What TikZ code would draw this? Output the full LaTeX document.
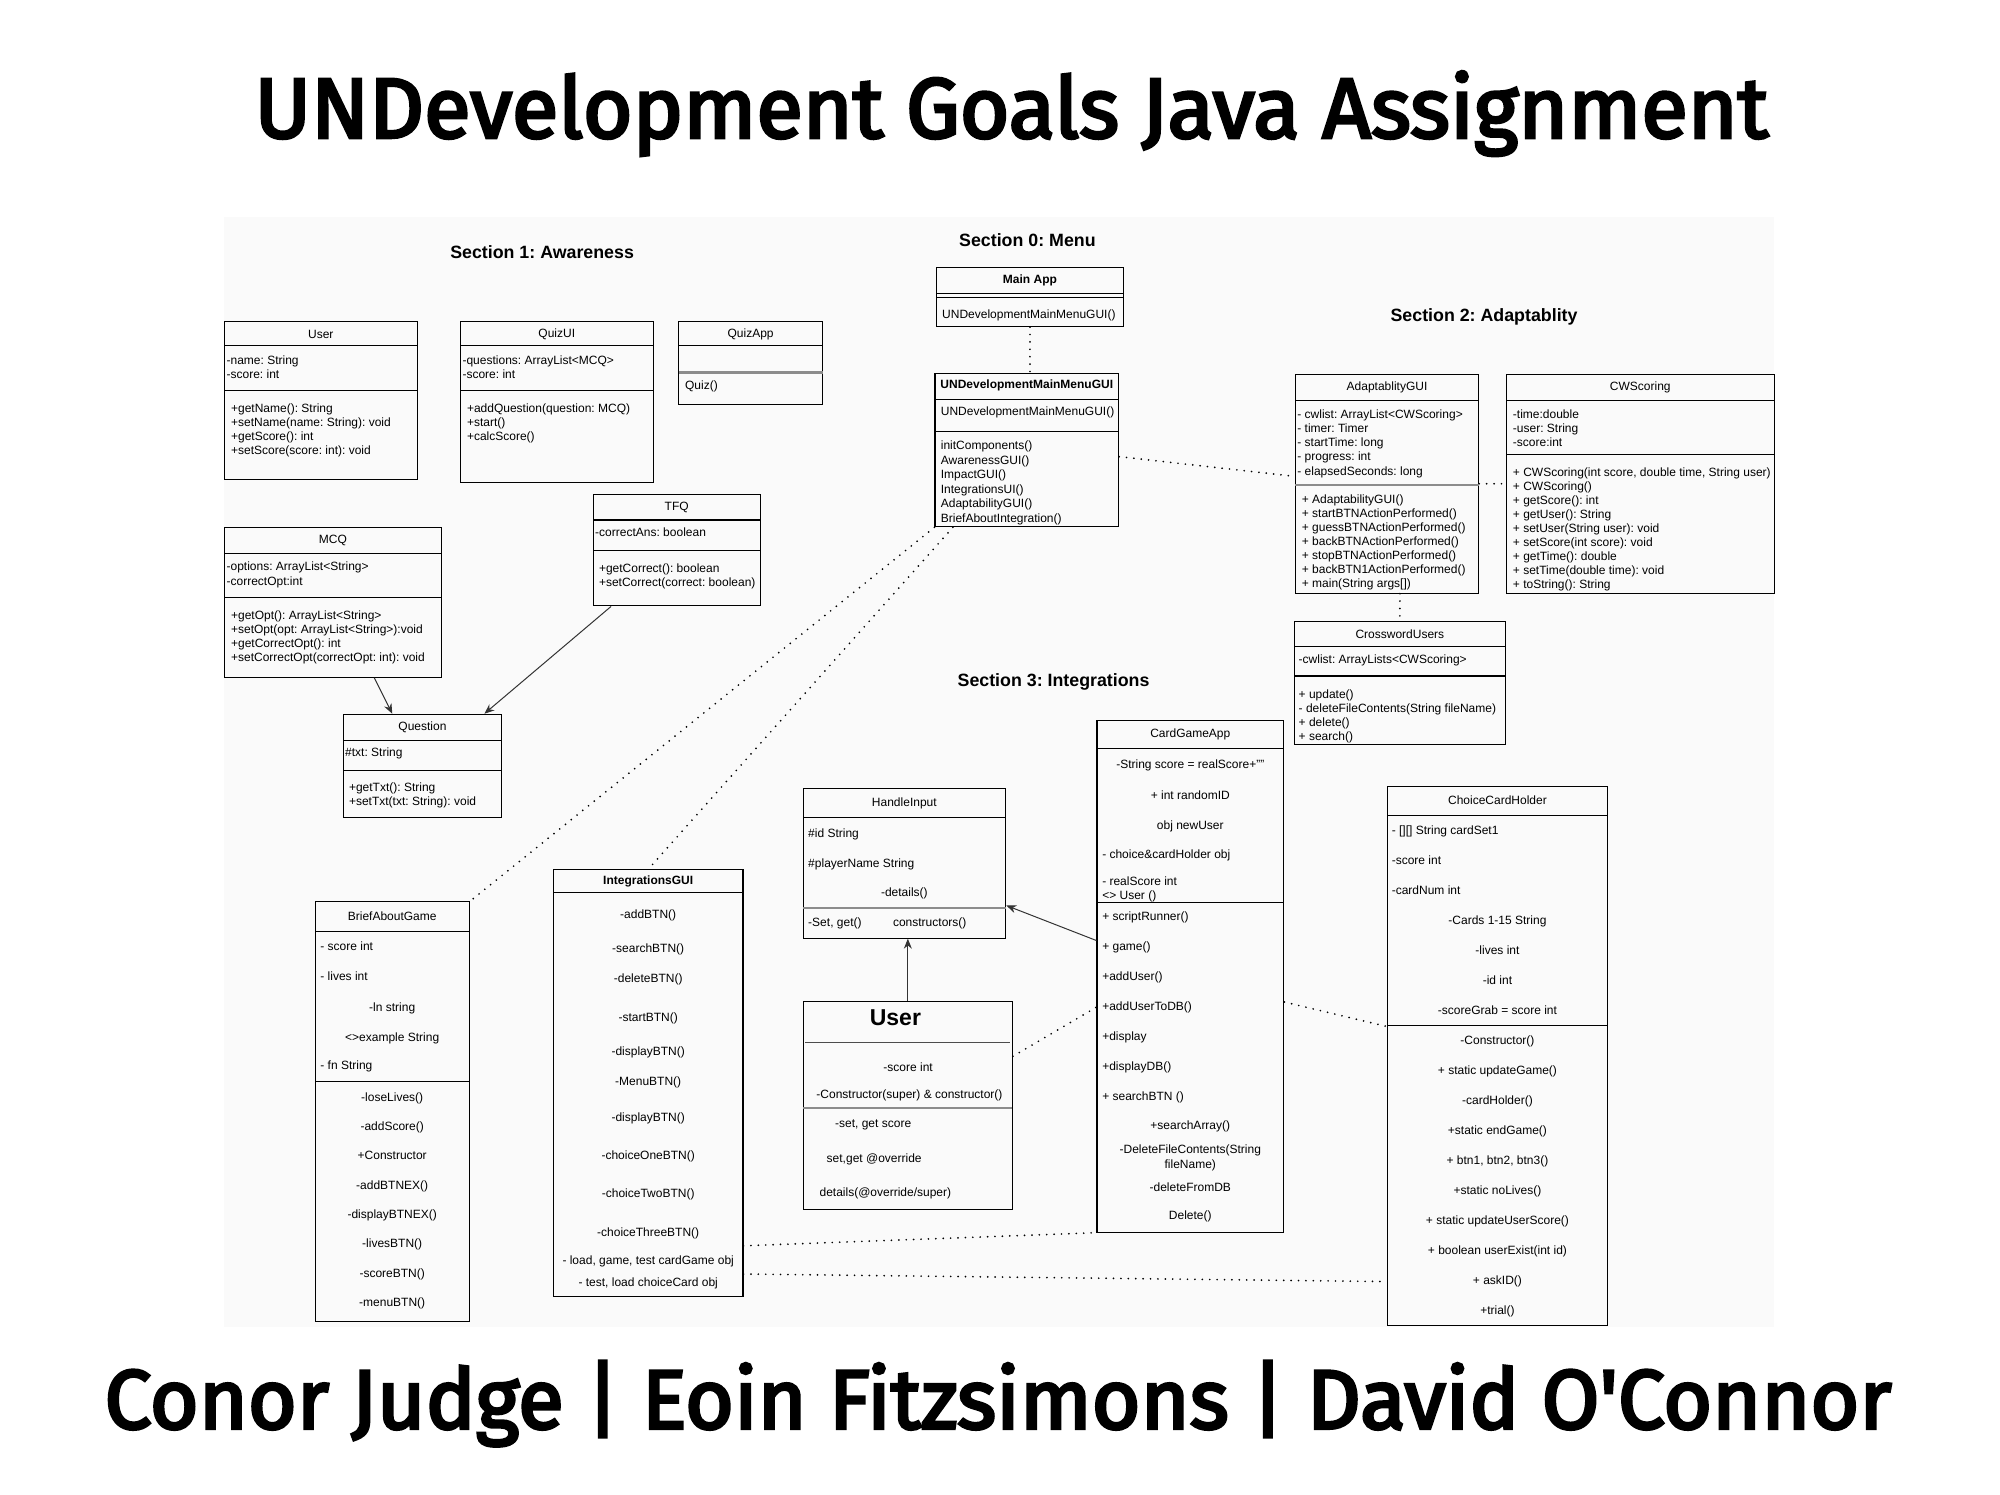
\documentclass[tikz,border=0pt]{standalone}
\usepackage{fontspec}
\usepackage{graphicx}
\setmainfont{Liberation Sans}
\newfontfamily\headfont{Fira Sans}[FakeBold=3.5]
\usetikzlibrary{calc}
\usetikzlibrary{fit}
\usetikzlibrary{arrows.meta}
\frenchspacing
\tikzset{
  uml/.style={draw, line width=1.1pt, inner sep=0pt},
  clsname/.style={font=\fontsize{12}{14}\selectfont, inner sep=0pt},
  clsbold/.style={font=\fontsize{12}{14}\selectfont\bfseries, inner sep=0pt},
  leftrows/.style={font=\fontsize{12}{#1}\selectfont, align=left, anchor=north west, inner sep=0pt},
  midrows/.style={font=\fontsize{12}{#1}\selectfont, align=center, anchor=north, inner sep=0pt},
  oneline/.style={font=\fontsize{12}{14}\selectfont, anchor=west, inner sep=0pt},
  sectitle/.style={font=\fontsize{17.8}{20}\selectfont\bfseries, inner sep=0pt},
  sepline/.style={line width=1.1pt},
  greyline/.style={line width=2.2pt, black!45},
  dotlink/.style={line width=1.9pt, line cap=round, dash pattern=on 0pt off 7.4pt},
  arrowlink/.style={-{Stealth[length=10pt, width=8pt]}, line width=1pt, black!80}
}
\begin{document}
\begin{tikzpicture}[x=1.2755pt, y=-1.2755pt]
    \useasboundingbox (0,0) rectangle (1568,1172);
    \fill[black!2] (176,170) rectangle (1391,1040);

    \node[anchor=base, inner sep=0pt] (title) at (793,108) {\resizebox{1513pt}{!}{\headfont UNDevelopment Goals Java Assignment}};
    \node[anchor=base, inner sep=0pt] (authors) at (782.5,1120) {\resizebox{1787pt}{!}{\headfont Conor Judge | Eoin Fitzsimons | David O'Connor}};

    \node[sectitle] (sec1) at (425,197.5) {Section 1: Awareness};
    \node[sectitle] (sec0) at (805.5,188) {Section 0: Menu};
    \node[sectitle] (sec2) at (1163.5,248.5) {Section 2: Adaptablity};
    \node[sectitle] (sec3) at (826,535) {Section 3: Integrations};

    % section 1
    \node[uml, fit={(176,252) (327,376)}] (user) {};
    \node[clsname] (user name) at (251.5,262) {User};
    \draw[sepline] (176,271) -- (327,271);
    \node[leftrows=14] (user attr) at (177.5,278.5) {-name: String\\-score: int};
    \draw[sepline] (176,306) -- (327,306);
    \node[leftrows=14] (user ops) at (181,316.5) {+getName(): String\\+setName(name: String): void\\+getScore(): int\\+setScore(score: int): void};

    \node[uml, fit={(361,252) (512,378)}] (quizui) {};
    \node[clsname] (quizui name) at (436.5,262) {QuizUI};
    \draw[sepline] (361,271) -- (512,271);
    \node[leftrows=14] (quizui attr) at (362.5,278.5) {-questions: ArrayList<MCQ>\\-score: int};
    \draw[sepline] (361,306) -- (512,306);
    \node[leftrows=14] (quizui ops) at (366,316.5) {+addQuestion(question: MCQ)\\+start()\\+calcScore()};

    \node[uml, fit={(532,252) (645,317)}] (quizapp) {};
    \node[clsname] (quizapp name) at (588.5,262) {QuizApp};
    \draw[sepline] (532,271) -- (645,271);
    \draw[greyline] (532,292) -- (645,292);
    \node[oneline] (quizapp ops) at (537,303) {Quiz()};

    \node[uml, fit={(176,413.5) (346,531)}] (mcq) {};
    \node[clsname] (mcq name) at (261,424) {MCQ};
    \draw[sepline] (176,433.8) -- (346,433.8);
    \node[leftrows=14.5] (mcq attr) at (177.5,440.3) {-options: ArrayList<String>\\-correctOpt:int};
    \draw[sepline] (176,468.5) -- (346,468.5);
    \node[leftrows=14] (mcq ops) at (181,478.4) {+getOpt(): ArrayList<String>\\+setOpt(opt: ArrayList<String>):void\\+getCorrectOpt(): int\\+setCorrectOpt(correctOpt: int): void};

    \node[uml, fit={(465,387.5) (596,475)}] (tfq) {};
    \node[clsname] (tfq name) at (530.5,397.7) {TFQ};
    \draw[sepline] (465,407.7) -- (596,407.7);
    \node[oneline] (tfq attr) at (466.5,417.6) {-correctAns: boolean};
    \draw[sepline] (465,431.7) -- (596,431.7);
    \node[leftrows=14.5] (tfq ops) at (469.5,441.5) {+getCorrect(): boolean\\+setCorrect(correct: boolean)};

    \node[uml, fit={(269.4,560) (393,641)}] (question) {};
    \node[clsname] (question name) at (331.2,570.5) {Question};
    \draw[sepline] (269.4,580.2) -- (393,580.2);
    \node[oneline] (question attr) at (270.5,590.3) {\#txt: String};
    \draw[sepline] (269.4,604.2) -- (393,604.2);
    \node[leftrows=14] (question ops) at (273.5,613.8) {+getTxt(): String\\+setTxt(txt: String): void};

    % section 0
    \node[uml, fit={(734,209.5) (881,256)}] (mainapp) {};
    \node[clsbold] (mainapp name) at (807.5,220) {Main App};
    \draw[sepline] (734,230) -- (881,230);
    \draw[sepline] (734,233) -- (881,233);
    \node[oneline] (mainapp ops) at (738.5,247.5) {UNDevelopmentMainMenuGUI()};

    \node[uml, fit={(733,293) (877,413)}] (menugui) {};
    \node[clsbold] (menugui name) at (805,302.5) {UNDevelopmentMainMenuGUI};
    \draw[sepline] (733,313) -- (877,313);
    \node[oneline] (menugui attr) at (737.5,323) {UNDevelopmentMainMenuGUI()};
    \draw[sepline] (733,338) -- (877,338);
    \node[leftrows=14.5] (menugui ops) at (737.5,345.5) {initComponents()\\AwarenessGUI()\\ImpactGUI()\\IntegrationsUI()\\AdaptabilityGUI()\\BriefAboutIntegration()};

    % section 2
    \node[uml, fit={(1015.5,293.5) (1159.3,465)}] (adaptgui) {};
    \node[clsname] (adaptgui name) at (1087.4,304) {AdaptablityGUI};
    \draw[sepline] (1015.5,314) -- (1159.3,314);
    \node[leftrows=14.3] (adaptgui attr) at (1017,320.8) {- cwlist: ArrayList<CWScoring>\\- timer: Timer\\- startTime: long\\- progress: int\\- elapsedSeconds: long};
    \draw[greyline] (1015.5,380.5) -- (1159.3,380.5);
    \node[leftrows=14] (adaptgui ops) at (1020.5,387.7) {+ AdaptabilityGUI()\\+ startBTNActionPerformed()\\+ guessBTNActionPerformed()\\+ backBTNActionPerformed()\\+ stopBTNActionPerformed()\\+ backBTN1ActionPerformed()\\+ main(String args[])};

    \node[uml, fit={(1181.3,293.5) (1391,465)}] (cwscoring) {};
    \node[clsname] (cwscoring name) at (1286,304) {CWScoring};
    \draw[sepline] (1181.3,314) -- (1391,314);
    \node[leftrows=14] (cwscoring attr) at (1186,320.8) {-time:double\\-user: String\\-score:int};
    \draw[sepline] (1181.3,356.2) -- (1391,356.2);
    \node[leftrows=14] (cwscoring ops) at (1186,366.3) {+ CWScoring(int score, double time, String user)\\+ CWScoring()\\+ getScore(): int\\+ getUser(): String\\+ setUser(String user): void\\+ setScore(int score): void\\+ getTime(): double\\+ setTime(double time): void\\+ toString(): String};

    \node[uml, fit={(1015,487) (1180,584)}] (crossword) {};
    \node[clsname] (crossword name) at (1097.5,497) {CrosswordUsers};
    \draw[sepline] (1015,507) -- (1180,507);
    \node[oneline] (crossword attr) at (1018,518) {-cwlist: ArrayLists<CWScoring>};
    \draw[sepline] (1015,530) -- (1180,530);
    \node[leftrows=14] (crossword ops) at (1018,540.5) {+ update()\\- deleteFileContents(String fileName)\\+ delete()\\+ search()};

    % section 3
    \node[uml, fit={(247,707) (368,1036)}] (briefgame) {};
    \node[clsname] (briefgame name) at (307.5,718.5) {BriefAboutGame};
    \draw[sepline] (247,730.5) -- (368,730.5);
    \node[leftrows=30] (briefgame attr) at (251,738.5) {- score int\\- lives int};
    \node[midrows=30] (briefgame attr2) at (307.5,786) {-ln string\\<>example String};
    \node[oneline] (briefgame fn) at (251,836) {- fn String};
    \draw[sepline] (247,848) -- (368,848);
    \node[midrows=29.3] (briefgame ops) at (307.5,856.5) {-loseLives()\\-addScore()\\+Constructor\\-addBTNEX()\\-displayBTNEX()\\-livesBTN()\\-scoreBTN()\\-menuBTN()};

    \node[uml, fit={(433.8,682) (582.5,1016.5)}] (integgui) {};
    \node[clsbold] (integgui name) at (508.2,691) {IntegrationsGUI};
    \draw[sepline] (433.8,700) -- (582.5,700);
    \node[midrows=21.6] (integgui ops) at (508.2,713.3) {-addBTN()\\[11.8pt]-searchBTN()\\[8.4pt]-deleteBTN()\\[17.3pt]-startBTN()\\[12.8pt]-displayBTN()\\[8.1pt]-MenuBTN()\\[15pt]-displayBTN()\\[16.2pt]-choiceOneBTN()\\[16.7pt]-choiceTwoBTN()\\[16.8pt]-choiceThreeBTN()\\[6.8pt]- load, game, test cardGame obj\\- test, load choiceCard obj};

    \node[uml, fit={(629.8,618) (788.5,735.5)}] (handleinput) {};
    \node[clsname] (handleinput name) at (709,629.8) {HandleInput};
    \draw[sepline] (629.8,641) -- (788.5,641);
    \node[leftrows=30] (handleinput attr) at (633.5,649.3) {\#id String\\\#playerName String};
    \node[clsname] (handleinput details) at (709,700.4) {-details()};
    \draw[greyline] (629.8,712) -- (788.5,712);
    \node[oneline] (handleinput set) at (633.5,724) {-Set, get()};
    \node[oneline] (handleinput cons) at (700,724) {constructors()};

    \node[uml, fit={(629.8,785) (793.7,948.5)}] (cguser) {};
    \node[font=\fontsize{23}{26}\selectfont\bfseries, inner sep=0pt] (cguser name) at (702,797.5) {User};
    \draw[line width=1pt, black!70] (631.5,817) -- (791.5,817);
    \node[clsname] (cguser score) at (712,836.7) {-score int};
    \node[clsname] (cguser cons) at (713,858.5) {-Constructor(super) \& constructor()};
    \draw[greyline] (629.8,868.5) -- (793.7,868.5);
    \node[oneline] (cguser ops1) at (654.6,882) {-set, get score};
    \node[oneline] (cguser ops2) at (648,909) {set,get @override};
    \node[oneline] (cguser ops3) at (642.4,935.5) {details(@override/super)};

    \node[uml, fit={(860,565) (1006.5,966)}] (cardgame) {};
    \node[clsname] (cardgame name) at (933.2,576) {CardGameApp};
    \draw[sepline] (860,587) -- (1006.5,587);
    \node[midrows=30.6] (cardgame attr) at (933.2,595.5) {-String score = realScore+""\\+ int randomID\\obj newUser};
    \node[oneline] (cardgame holder) at (864,671) {- choice\&cardHolder obj};
    \node[leftrows=14.7] (cardgame real) at (864,687) {- realScore int\\<> User ()};
    \draw[sepline] (860,707.5) -- (1006.5,707.5);
    \node[leftrows=30.1] (cardgame ops) at (864,714.5) {+ scriptRunner()\\+ game()\\+addUser()\\+addUserToDB()\\+display\\+displayDB()\\+ searchBTN ()};
    \node[clsname] (cardgame search) at (933.2,883) {+searchArray()};
    \node[midrows=15.3] (cardgame delete) at (933.2,897) {-DeleteFileContents(String\\fileName)};
    \node[clsname] (cardgame db) at (933.2,930.5) {-deleteFromDB};
    \node[clsname] (cardgame del) at (933.2,954) {Delete()};

    \node[uml, fit={(1087.5,616.5) (1260.5,1039.5)}] (choicecard) {};
    \node[clsname] (choicecard name) at (1174,627.5) {ChoiceCardHolder};
    \draw[sepline] (1087.5,639) -- (1260.5,639);
    \node[leftrows=30] (choicecard attr) at (1091,647.5) {- [][] String cardSet1\\-score int\\-cardNum int};
    \node[midrows=30] (choicecard attr2) at (1174,718) {-Cards 1-15 String\\-lives int\\-id int\\-scoreGrab = score int};
    \draw[sepline] (1087.5,804) -- (1260.5,804);
    \node[midrows=30] (choicecard ops) at (1174,812) {-Constructor()\\+ static updateGame()\\-cardHolder()\\+static endGame()\\+ btn1, btn2, btn3()\\+static noLives()\\+ static updateUserScore()\\+ boolean userExist(int id)\\+ askID()\\+trial()};

    % links
    \draw[dotlink] (mainapp.south) -- (mainapp.south |- menugui.north);
    \draw[dotlink] ([shift={(0,5)}]menugui.east) -- ([shift={(-2,-6)}]adaptgui.west);
    \draw[dotlink] (adaptgui.east) -- (cwscoring.west);
    \draw[dotlink] (adaptgui.south -| crossword.north) -- (crossword.north);
    \draw[dotlink] (menugui.south west) -- (briefgame.north east);
    \draw[dotlink] ($(menugui.south west)!0.1!(menugui.south east)$) -- (integgui.north);
    \draw[arrowlink] ($(mcq.south west)!0.69!(mcq.south east)$) -- ($(question.north west)!0.31!(question.north east)$);
    \draw[arrowlink] ($(tfq.south west)!0.11!(tfq.south east)$) -- ($(question.north west)!0.89!(question.north east)$);
    \draw[arrowlink] ($(cardgame.north west)!0.43!(cardgame.south west)$) -- ($(handleinput.north east)!0.78!(handleinput.south east)$);
    \draw[arrowlink] (cguser.north) -- (cguser.north |- handleinput.south);
    \draw[dotlink] ($(cguser.north east)!0.265!(cguser.south east)$) -- ($(cardgame.north west)!0.56!(cardgame.south west)$);
    \draw[dotlink] ($(integgui.north east)!0.88!(integgui.south east)$) -- (cardgame.south west);
    \draw[dotlink] ($(integgui.north east)!0.946!(integgui.south east)$) -- ($(choicecard.north west)!0.917!(choicecard.south west)$);
    \draw[dotlink] ($(cardgame.north east)!0.55!(cardgame.south east)$) -- ($(choicecard.north west)!0.445!(choicecard.south west)$);
\end{tikzpicture}
\end{document}
